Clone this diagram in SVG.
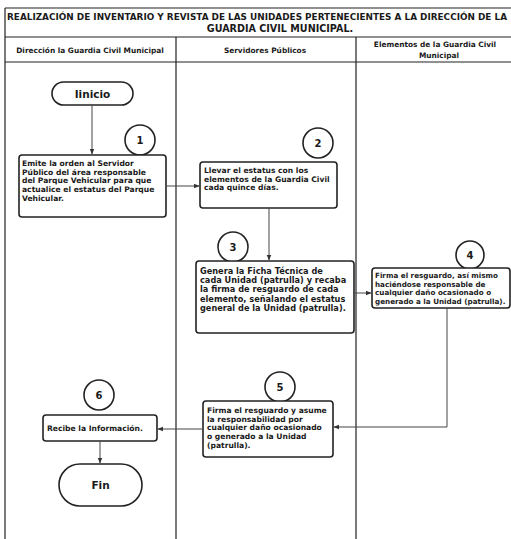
<svg xmlns="http://www.w3.org/2000/svg" width="511" height="539" viewBox="0 0 511 539">
<defs>
<marker id="ah" viewBox="0 0 10 10" refX="9" refY="5" markerWidth="6" markerHeight="6" orient="auto" markerUnits="userSpaceOnUse"><path d="M0,1 L10,5 L0,9 z" fill="#333"/></marker>
<style>
.frame{fill:none;stroke:#222;stroke-width:1.2}
.box{fill:#fff;stroke:#222;stroke-width:1.6}
.circ{fill:#fff;stroke:#222;stroke-width:1.6}
.t{font-family:"DejaVu Sans",sans-serif;font-weight:bold;font-size:7.6px;fill:#1a1a1a}
.h{font-family:"DejaVu Sans",sans-serif;font-weight:bold;font-size:7.4px;fill:#1a1a1a;text-anchor:middle}
.ti{font-family:"DejaVu Sans",sans-serif;font-weight:bold;font-size:8.1px;fill:#1a1a1a}
.n{font-family:"DejaVu Sans",sans-serif;font-weight:bold;font-size:10px;fill:#1a1a1a;text-anchor:middle}
.term{font-family:"DejaVu Sans",sans-serif;font-weight:bold;font-size:10.5px;fill:#1a1a1a;text-anchor:middle}
.c{fill:none;stroke:#444;stroke-width:1}
</style>
</defs>
<rect width="511" height="539" fill="#fff"/>
<g id="table">
<path class="frame" d="M5,8 H520 M5,37 H520 M5,62 H520 M5,8 V539 M176,37 V539 M356,37 V539"/>
<text class="ti" x="7" y="20" textLength="500" lengthAdjust="spacingAndGlyphs">REALIZACIÓN DE INVENTARIO Y REVISTA DE LAS UNIDADES PERTENECIENTES A LA DIRECCIÓN DE LA</text>
<text class="ti" x="280" y="32" text-anchor="middle" style="font-size:9.6px">GUARDIA CIVIL MUNICIPAL.</text>
<text class="h" x="90" y="53">Dirección la Guardia Civil Municipal</text>
<text class="h" x="265" y="53">Servidores Públicos</text>
<text class="h" x="435" y="47">Elementos de la Guardia Civil</text>
<text class="h" x="439" y="58">Municipal</text>
</g>
<g id="inicio">
<rect class="box" x="52" y="82" width="81" height="23" rx="11.5"/>
<text class="term" x="92.5" y="97.5">Iinicio</text>
</g>
<g id="n1">
<circle class="circ" cx="140" cy="140" r="15"/>
<text class="n" x="140" y="143.5">1</text>
<rect class="box" x="19" y="155" width="147" height="62" rx="3"/>
<text class="t"><tspan x="22" y="166">Emite la orden al Servidor</tspan><tspan x="22" y="174.7">Público del área responsable</tspan><tspan x="22" y="183.4">del Parque Vehicular para que</tspan><tspan x="22" y="192.1">actualice el estatus del Parque</tspan><tspan x="22" y="200.8">Vehicular.</tspan></text>
</g>
<g id="n2">
<circle class="circ" cx="318" cy="143" r="15"/>
<text class="n" x="318" y="146.5">2</text>
<rect class="box" x="200" y="162" width="137" height="46" rx="3"/>
<text class="t"><tspan x="204" y="173">Llevar el estatus con los</tspan><tspan x="204" y="181.7">elementos de la Guardia Civil</tspan><tspan x="204" y="190.4">cada quince días.</tspan></text>
</g>
<g id="n3">
<circle class="circ" cx="233" cy="247" r="15"/>
<text class="n" x="233" y="250.5">3</text>
<rect class="box" x="196" y="261" width="158" height="72" rx="3"/>
<text class="t" style="font-size:8.2px"><tspan x="200" y="274">Genera la Ficha Técnica de</tspan><tspan x="200" y="283.2">cada Unidad (patrulla) y recaba</tspan><tspan x="200" y="292.4">la firma de resguardo de cada</tspan><tspan x="200" y="301.6">elemento, señalando el estatus</tspan><tspan x="200" y="310.8">general de la Unidad (patrulla).</tspan></text>
</g>
<g id="n4">
<circle class="circ" cx="470" cy="255" r="14"/>
<text class="n" x="470" y="258.5">4</text>
<rect class="box" x="372" y="268" width="138" height="40" rx="3"/>
<text class="t" style="font-size:7.2px"><tspan x="375" y="278">Firma el resguardo, así mismo</tspan><tspan x="375" y="286.7">haciéndose responsable de</tspan><tspan x="375" y="295.4">cualquier daño ocasionado o</tspan><tspan x="375" y="304.1">generado a la Unidad (patrulla).</tspan></text>
</g>
<g id="n5">
<circle class="circ" cx="280" cy="387" r="15"/>
<text class="n" x="280" y="390.5">5</text>
<rect class="box" x="203" y="401" width="130" height="56" rx="3"/>
<text class="t"><tspan x="207" y="413">Firma el resguardo y asume</tspan><tspan x="207" y="421.7">la responsabilidad por</tspan><tspan x="207" y="430.4">cualquier daño ocasionado</tspan><tspan x="207" y="439.1">o generado a la Unidad</tspan><tspan x="207" y="447.8">(patrulla).</tspan></text>
</g>
<g id="n6">
<circle class="circ" cx="99" cy="395" r="15"/>
<text class="n" x="99" y="398.5">6</text>
<rect class="box" x="43" y="415" width="114" height="26" rx="3"/>
<text class="t" x="47" y="430.5">Recibe la Información.</text>
</g>
<g id="fin">
<rect class="box" x="59" y="464" width="83" height="42" rx="21"/>
<text class="term" x="100.5" y="489">Fin</text>
</g>
<g id="connectors">
<path class="c" d="M92,105 V154" marker-end="url(#ah)"/>
<path class="c" d="M166,186 H199" marker-end="url(#ah)"/>
<path class="c" d="M269,208 V260" marker-end="url(#ah)"/>
<path class="c" d="M354,293 H371" marker-end="url(#ah)"/>
<path class="c" d="M447,308 V427 H334" marker-end="url(#ah)"/>
<path class="c" d="M203,429 H158" marker-end="url(#ah)"/>
<path class="c" d="M100,441 V463" marker-end="url(#ah)"/>
</g>
</svg>
